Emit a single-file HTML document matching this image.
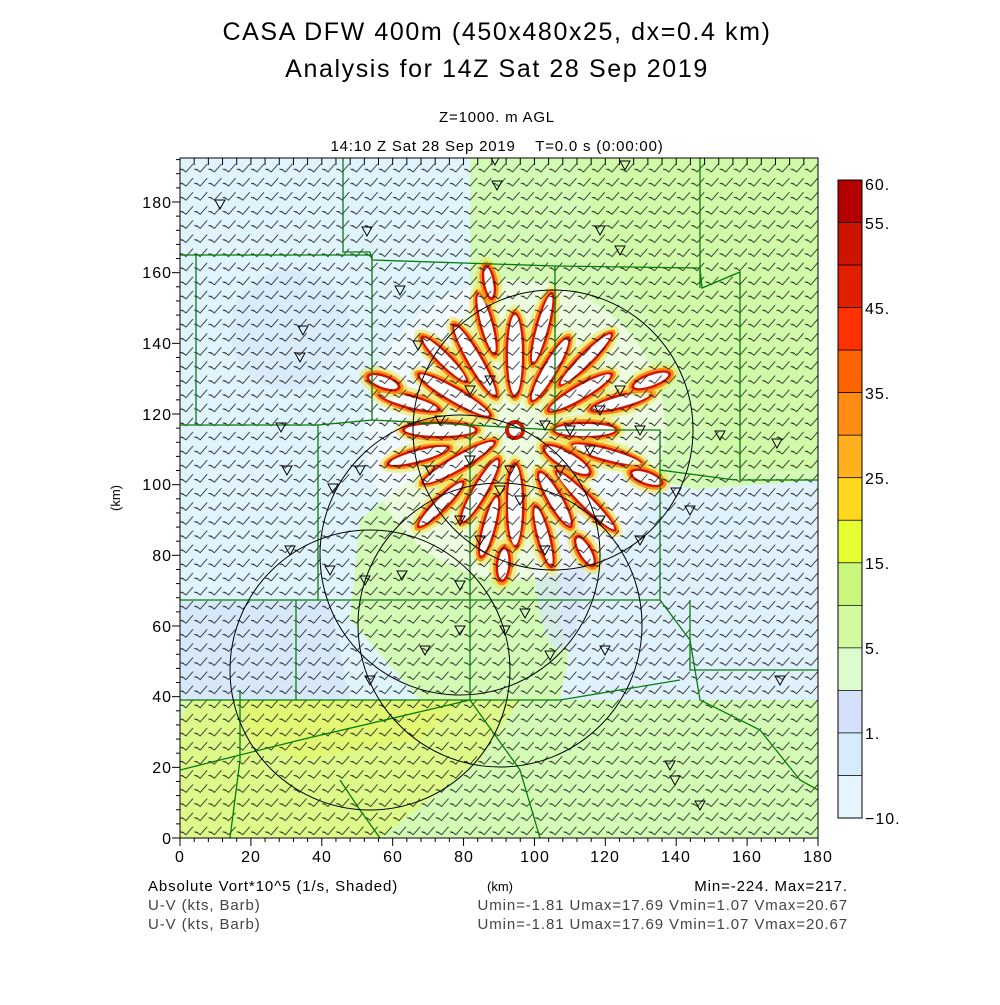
<!DOCTYPE html>
<html><head><meta charset="utf-8"><style>
body{margin:0;background:#fff;width:1000px;height:1000px;overflow:hidden}
svg text{font-family:"Liberation Sans","DejaVu Sans",sans-serif;fill:#000}
</style></head><body>
<svg id="s" width="1000" height="1000" xmlns="http://www.w3.org/2000/svg">
<defs>
<clipPath id="pc"><rect x="180" y="158" width="638" height="680"/></clipPath>
<pattern id="barb" x="180" y="160" width="14.2" height="14.1" patternUnits="userSpaceOnUse">
<path d="M2,9 l4,3 l7,-8 M0,9 l3,1" stroke="#111" stroke-width="0.8" fill="none"/>
</pattern>
</defs>
<g clip-path="url(#pc)">
<rect x="180" y="158" width="638" height="680" fill="#e0f4fd"/>
<path d="M470,158 L818,158 L818,500 L700,490 L600,470 L560,520 L580,600 L560,700 L420,700 L350,620 L360,520 L420,470 L440,380 L470,300 Z" fill="#d3fbb6"/>
<path d="M580,170 L600,240 L640,300 L690,380 L720,470 L818,470 L818,158 L575,158Z" fill="#d0fa9e" opacity="0.6"/>
<path d="M560,500 L818,480 L818,700 L580,700 L560,620Z" fill="#dff1fc"/>
<path d="M180,600 L330,600 L350,700 L180,700Z" fill="#d8e8fb"/>
<path d="M180,700 L818,700 L818,838 L180,838Z" fill="#d3fbb6"/>
<path d="M190,700 L520,700 L480,760 L380,838 L180,838 L180,720Z" fill="#ddf98a"/>
<path d="M240,700 L460,700 L420,740 L300,760 L250,740Z" fill="#e4f66a" opacity="0.7"/>
<ellipse cx="290" cy="330" rx="60" ry="60" fill="#d4e6fa" opacity="0.6"/>
<ellipse cx="560" cy="560" rx="25" ry="90" fill="#d6e6fb" opacity="0.7"/>
<circle cx="515" cy="430" r="150" fill="#fff" opacity="0.55"/>
<g id="streaks"></g>
<rect x="180" y="158" width="638" height="680" fill="url(#barb)"/>
<g fill="none" stroke="#087c08" stroke-width="1.3">
<path d="M343,158 L343,252 L370,252 L372,260 L555,266 L700,268 L702,288 L740,272 L740,480 L818,480"/>
<path d="M700,158 L700,288"/>
<path d="M180,255 L372,255 L372,420 L318,425 L180,425"/>
<path d="M196,255 L196,425"/>
<path d="M318,425 L318,600 L180,600"/>
<path d="M372,420 L470,425 L470,700"/>
<path d="M555,266 L555,430 L470,425"/>
<path d="M318,600 L660,600 L660,470"/>
<path d="M555,430 L660,430 L660,470 L735,480"/>
<path d="M690,600 L690,670 L818,670"/>
<path d="M660,600 L690,640 L700,700 L760,730 L800,780 L818,790"/>
<path d="M180,700 L470,700 L520,770 L540,838"/>
<path d="M240,690 L240,760 L230,838"/>
<path d="M296,600 L296,700"/>
<path d="M470,700 L560,700 L680,680"/>
<path d="M180,770 L300,740 L470,700"/>
<path d="M340,780 L360,810 L380,838"/>
</g>
<g fill="none" stroke="#000" stroke-width="1">
<circle cx="553" cy="430" r="140"/>
<circle cx="460" cy="555" r="140"/>
<circle cx="500" cy="625" r="142"/>
<circle cx="370" cy="670" r="140"/>
</g>
<g id="tri" fill="none" stroke="#000" stroke-width="1"></g>
</g>
<rect x="180" y="158" width="638" height="680" fill="none" stroke="#000" stroke-width="1"/>
<g id="ticks" stroke="#000" stroke-width="1"></g>
<text x="497" y="40" font-size="25" text-anchor="middle" letter-spacing="1.6">CASA DFW 400m (450x480x25, dx=0.4 km)</text>
<text x="497" y="77" font-size="25" text-anchor="middle" letter-spacing="1.6">Analysis for 14Z Sat 28 Sep 2019</text>
<text x="497" y="122" font-size="15" text-anchor="middle" letter-spacing="0.8">Z=1000. m AGL</text>
<text x="497" y="151" font-size="15" text-anchor="middle" letter-spacing="0.8" xml:space="preserve">14:10 Z Sat 28 Sep 2019    T=0.0 s (0:00:00)</text>
<g font-size="16" text-anchor="end" letter-spacing="1">
<text x="172" y="844">0</text><text x="172" y="773">20</text><text x="172" y="702">40</text><text x="172" y="632">60</text><text x="172" y="561">80</text><text x="172" y="490">100</text><text x="172" y="420">120</text><text x="172" y="349">140</text><text x="172" y="278">160</text><text x="172" y="208">180</text>
</g>
<g font-size="16" text-anchor="middle" letter-spacing="1">
<text x="180" y="862">0</text><text x="251" y="862">20</text><text x="322" y="862">40</text><text x="393" y="862">60</text><text x="464" y="862">80</text><text x="535" y="862">100</text><text x="605" y="862">120</text><text x="676" y="862">140</text><text x="747" y="862">160</text><text x="818" y="862">180</text>
</g>
<text x="120" y="498" font-size="13" text-anchor="middle" transform="rotate(-90 120 498)">(km)</text>
<text x="500" y="891" font-size="13" text-anchor="middle">(km)</text>
<text x="148" y="891" font-size="15" letter-spacing="0.9">Absolute Vort*10^5 (1/s, Shaded)</text>
<text x="148" y="910" font-size="15" letter-spacing="0.9" style="fill:#444">U-V (kts, Barb)</text>
<text x="148" y="929" font-size="15" letter-spacing="0.9" style="fill:#444">U-V (kts, Barb)</text>
<text x="848" y="891" font-size="15" text-anchor="end" letter-spacing="0.9">Min=-224. Max=217.</text>
<text x="848" y="910" font-size="15" text-anchor="end" letter-spacing="0.9" style="fill:#444">Umin=-1.81 Umax=17.69 Vmin=1.07 Vmax=20.67</text>
<text x="848" y="929" font-size="15" text-anchor="end" letter-spacing="0.9" style="fill:#444">Umin=-1.81 Umax=17.69 Vmin=1.07 Vmax=20.67</text>
<g id="cb"></g>
</svg>
<script>
(function(){
var NS="http://www.w3.org/2000/svg";
function el(p,t,a){var e=document.createElementNS(NS,t);for(var k in a)e.setAttribute(k,a[k]);p.appendChild(e);return e;}
var cols=["#b40000","#cc1400","#e11e00","#ff3200","#ff6400","#ff8c14","#ffb01e","#ffd81e","#e6ff32","#c8f77c","#d2fba0","#dcfcce","#d6e0fc","#d6ecfc","#e4f6fc"];
var cb=document.getElementById("cb"),y0=180,h=(818-180)/15;
cols.forEach(function(c,i){el(cb,"rect",{x:838,y:y0+i*h,width:24,height:h,fill:c,stroke:"#000","stroke-width":0.7});});
el(cb,"rect",{x:838,y:180,width:24,height:638,fill:"none",stroke:"#000"});
var labs=[["60.",0,190],["55.",1,229],["45.",3,314],["35.",5,399],["25.",7,484],["15.",9,569],["5.",11,654],["1.",13,739],["\u221210.",15,824]];
labs.forEach(function(l){var t=el(cb,"text",{x:865,y:l[2],"font-size":16,"letter-spacing":1});t.textContent=l[0];});
var tk=document.getElementById("ticks");
for(var i=0;i<=45;i++){var x=180+i*638/45;el(tk,"line",{x1:x,y1:838,x2:x,y2:i%5==0?846:842});el(tk,"line",{x1:x,y1:158,x2:x,y2:165});}
for(var j=0;j<=48;j++){var y=838-j*636/45;if(y<158)break;el(tk,"line",{x1:180,y1:y,x2:j%5==0?172:176,y2:y});}
var g=document.getElementById("streaks");
var cx=515,cy=430;
var st=[[0,70,30,6],[15,95,35,5],[30,60,25,7],[45,100,40,5],[60,80,30,6],[75,110,30,5],[90,75,40,7],[105,100,30,5],[120,70,35,6],[135,105,30,5],[150,65,40,6],[165,100,30,5],[180,75,35,6],[195,110,30,5],[210,70,40,6],[225,100,30,5],[240,80,40,6],[255,110,30,5],[270,75,40,7],[285,105,35,5],[300,70,35,6],[315,100,35,5],[330,75,35,6],[345,110,30,5],[20,140,15,5],[95,135,15,5],[200,140,15,5],[340,145,18,5],[260,150,15,4],[60,140,15,5]];
st.forEach(function(s){var a=s[0],r=s[1],l=s[2],w=s[3];
var gg=el(g,"g",{transform:"rotate("+a+" "+cx+" "+cy+")"});
el(gg,"ellipse",{cx:cx+r,cy:cy,rx:l+10,ry:w+9,fill:"#f0e040",opacity:0.5});
el(gg,"ellipse",{cx:cx+r,cy:cy,rx:l+6,ry:w+5,fill:"#ff8c14"});
el(gg,"ellipse",{cx:cx+r,cy:cy,rx:l+3,ry:w+2.5,fill:"#d21400"});
el(gg,"ellipse",{cx:cx+r,cy:cy,rx:l,ry:w,fill:"#fff"});
});
el(g,"circle",{cx:cx,cy:cy,r:10,fill:"#d21400"});el(g,"circle",{cx:cx,cy:cy,r:6,fill:"#fff"});
var tri=document.getElementById("tri");
var pts=[[220,204],[367,231],[303,330],[300,357],[281,427],[287,470],[333,488],[360,470],[400,290],[418,345],[440,420],[430,470],[470,390],[490,380],[460,520],[480,540],[500,490],[520,500],[560,470],[600,410],[620,390],[640,430],[600,230],[620,250],[625,165],[495,160],[497,185],[720,435],[777,443],[640,540],[690,510],[676,492],[780,680],[605,650],[550,655],[525,613],[505,630],[460,630],[425,650],[370,680],[365,580],[330,570],[290,550],[600,520],[545,550],[460,585],[402,575],[670,765],[675,780],[700,805],[470,460],[510,470],[570,430],[590,450],[545,425]];
pts.forEach(function(p){el(tri,"path",{d:"M"+(p[0]-5)+","+(p[1]-4)+" l10,0 l-5,9z"});});
})();
</script>
</body></html>
